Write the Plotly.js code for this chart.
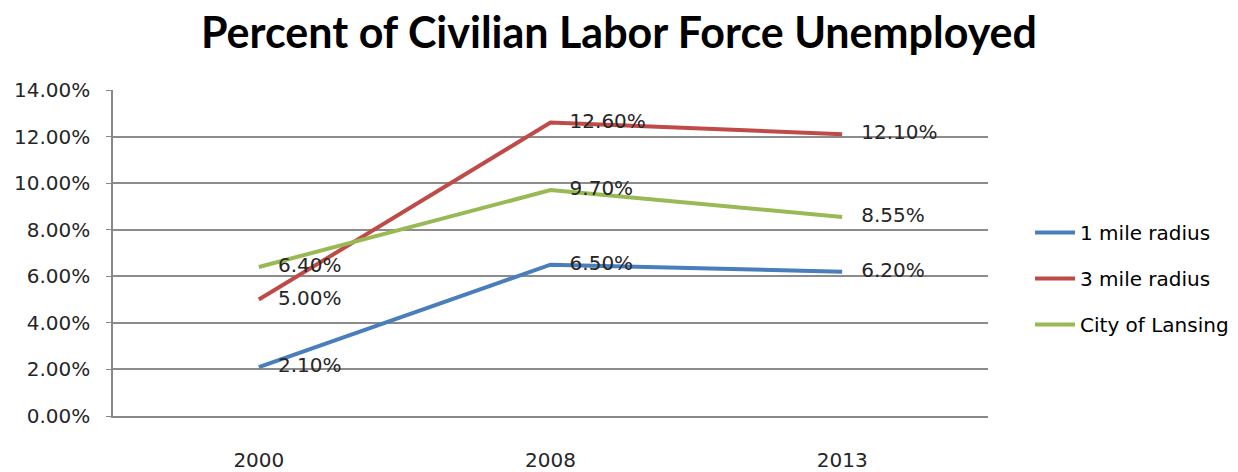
<!DOCTYPE html>
<html><head><meta charset="utf-8">
<script src="https://cdn.plot.ly/plotly-3.0.1.min.js"></script>
<style>body{margin:0;background:#fff}#c{width:1238px;height:472px}</style>
</head><body><div id="c"></div>
<script>
const years = ['2000', '2008', '2013'];
const oneMile = [2.10, 6.50, 6.20];
const threeMile = [5.00, 12.60, 12.10];
const lansing = [6.40, 9.70, 8.55];
const seriesNames = ['1 mile radius', '3 mile radius', 'City of Lansing'];
const yTicks = [0, 2, 4, 6, 8, 10, 12, 14];
const colors = ['#4A7EBB', '#BE4B48', '#98B954'];
const font = '"DejaVu Sans", sans-serif';
const tfont = 'Lato, sans-serif';

function tr(vals, i) {
  return {
    x: years, y: vals, name: seriesNames[i], type: 'scatter', mode: 'lines+text',
    legendgroup: 'g' + i,
    line: {color: colors[i], width: 4},
    text: vals.map(v => '   ' + v.toFixed(2) + '%'),
    textposition: 'middle right',
    textfont: {family: font, size: 20, color: '#262626'},
    cliponaxis: false
  };
}
const data = [tr(oneMile, 0), tr(threeMile, 1), tr(lansing, 2)];
const layout = {
  width: 1238, height: 472,
  margin: {l: 113, r: 250, t: 90, b: 56},
  paper_bgcolor: '#fff', plot_bgcolor: '#fff',
  title: {text: '<b>Percent of Civilian Labor Force Unemployed</b>', x: 0.5, xref: 'container', xanchor: 'center',
          y: 0.93, yref: 'container', yanchor: 'middle', font: {family: tfont, size: 43, color: '#000'}},
  xaxis: {type: 'category', range: [-0.5, 2.5], showgrid: false, zeroline: false,
          showline: true, linecolor: '#888', linewidth: 2, ticks: '',
          tickfont: {family: font, size: 20, color: '#262626'}, ticklabelstandoff: 25},
  yaxis: {range: [0, 14], tickvals: yTicks, ticktext: yTicks.map(v => v.toFixed(2) + '%'),
          showgrid: true, gridcolor: '#8c8c8c', gridwidth: 1.5, zeroline: false,
          showline: true, linecolor: '#888', linewidth: 1.5, ticks: 'outside', ticklen: 5, tickcolor: '#888',
          tickfont: {family: font, size: 20, color: '#262626'}, ticklabelstandoff: 12},
  legend: {xref: 'container', yref: 'container', x: 0.832, xanchor: 'left', y: 0.41, yanchor: 'middle',
           tracegroupgap: 17, font: {family: font, size: 20, color: '#000'}, itemwidth: 40},
  showlegend: true
};
Plotly.newPlot('c', data, layout, {displayModeBar: false});
</script></body></html>
